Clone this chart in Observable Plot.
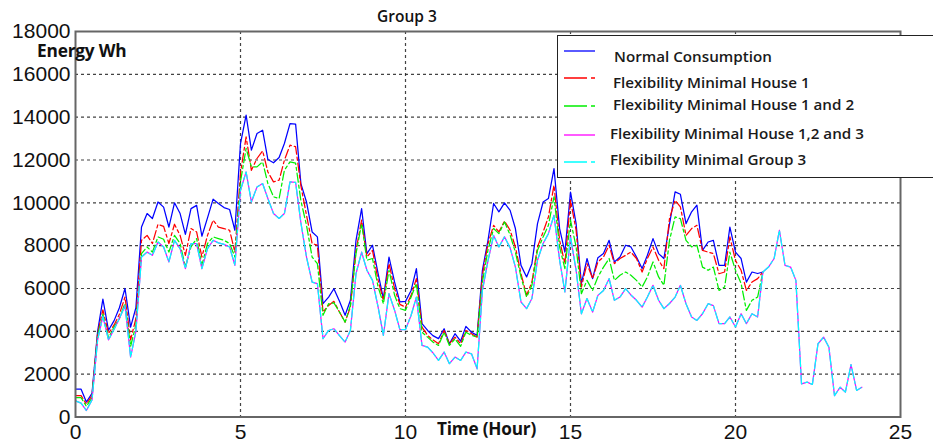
<!DOCTYPE html>
<html>
<head>
<meta charset="utf-8">
<script src="https://cdn.jsdelivr.net/npm/d3@7"></script>
<script src="https://cdn.jsdelivr.net/npm/@observablehq/plot@0.6"></script>
<style>
  html, body { margin: 0; padding: 0; background: #fff; overflow: hidden; }
  #wrap { position: relative; width: 933px; height: 448px; overflow: hidden; }
  #wrap svg.plot { position: absolute; left: 0; top: 0; }
  .ov { position: absolute; white-space: nowrap; font-family: "Open Sans", sans-serif; color: #111; }
  #title { left: 0; width: 814px; text-align: center; top: 5px; font-size: 15.5px; font-weight: 600; }
  #ylab { left: 37px; top: 39px; font-size: 17.3px; font-weight: 700; letter-spacing: -0.2px; }
  #xlab { left: 437px; top: 417px; font-size: 17.2px; font-weight: 700; letter-spacing: -0.2px; }
  #legend { position: absolute; left: 557px; top: 35px; width: 420px; height: 143px; background: #fff; border: 1.3px solid #222; box-sizing: border-box; }
  #legend svg { position: absolute; left: 0; top: 0; }
  #legend .lt { position: absolute; white-space: nowrap; font-family: "Open Sans", sans-serif; font-weight: 600; font-size: 15.2px; color: #1a1a1a; }
</style>
</head>
<body>
<div id="wrap"></div>
<script>
// ---- Data (hours, Wh) ----
const times = [0,0.17,0.33,0.5,0.67,0.83,1,1.17,1.33,1.5,1.67,1.83,
  2,2.17,2.33,2.5,2.67,2.83,3,3.17,3.33,3.5,3.67,3.83,
  4,4.17,4.33,4.5,4.67,4.83,5,5.17,5.33,5.5,5.67,5.83,
  6,6.17,6.33,6.5,6.67,6.83,7,7.17,7.33,7.5,7.67,7.83,
  8,8.17,8.33,8.5,8.67,8.83,9,9.17,9.33,9.5,9.67,9.83,
  10,10.17,10.33,10.5,10.67,10.83,11,11.17,11.33,11.5,11.67,11.83,
  12,12.17,12.33,12.5,12.67,12.83,13,13.17,13.33,13.5,13.67,13.83,
  14,14.17,14.33,14.5,14.67,14.83,15,15.17,15.33,15.5,15.67,15.83,
  16,16.17,16.33,16.5,16.67,16.83,17,17.17,17.33,17.5,17.67,17.83,
  18,18.17,18.33,18.5,18.67,18.83,19,19.17,19.33,19.5,19.67,19.83,
  20,20.17,20.33,20.5,20.67,20.83,21,21.17,21.33,21.5,21.67,21.83,
  22,22.17,22.33,22.5,22.67,22.83,23,23.17,23.33,23.5,23.67,23.83];

const normalConsumption = [1300,1300,700,1100,4000,5500,4050,4500,5100,6000,4200,5100,
  8870,9500,9270,10040,9800,8870,10000,9500,8530,9730,9880,8440,
  9300,10170,9970,9780,9690,8720,12770,14100,12460,13240,13390,12020,
  11870,12120,12770,13700,13680,10900,10040,8640,8410,5290,5600,5990,
  5400,4750,5450,8250,9730,7630,8020,6690,5530,7470,6300,5370,
  5400,5910,6930,4360,4040,3800,3660,4120,3420,3890,3540,4230,
  3960,3810,6850,8250,9970,9580,10000,9650,8800,7080,6540,7160,
  9030,10040,10200,11600,8800,7700,10500,9030,6230,7400,6460,7440,
  7630,8250,7240,7470,8020,7940,7470,6930,7550,8330,7630,7400,
  9000,10510,10400,9030,9580,9890,7780,8170,8250,7080,7080,8870,
  7700,7400,6300,6770,6700,6770];

const flexHouse1 = [1000,1000,600,1000,3900,5000,3900,4300,4800,5600,3600,4600,
  8250,8480,8100,9000,8900,8100,9000,8480,7550,8800,8640,7470,
  8480,9190,8870,8800,8720,7700,11400,13080,11520,12070,12430,11440,
  10980,11060,11990,12690,12620,10800,9420,8100,8020,4900,5210,5400,
  4900,4430,5130,7780,9190,7470,7780,6380,5450,7160,5990,5260,
  5130,5680,6460,4200,3810,3600,3420,4040,3420,3730,3420,4040,
  3890,3730,6620,8100,8950,8640,9150,8720,7940,6690,5680,6300,
  7940,8640,9340,10820,8250,7160,10120,8720,6070,7160,6460,7240,
  7470,8020,7160,7400,7550,7700,7400,6770,7400,7940,7320,6930,
  9270,10120,9810,8480,8800,8950,7780,7700,7630,6690,6770,8410,
  7300,6850,5910,6300,6460,6770];

const flexHouse12 = [900,900,500,900,3800,4800,3700,4200,4600,5300,3300,4300,
  7630,7940,7700,8410,8300,7700,8480,8100,7000,7940,8330,7080,
  8100,8410,8330,8250,8100,7470,11000,12540,11680,11680,11910,10900,
  10280,10200,11520,11910,11850,10100,8950,7470,7160,4750,5290,5330,
  4900,4430,5210,7630,9030,7320,7400,6070,5290,6850,5680,5060,
  4980,5600,6230,3960,3730,3500,3340,3960,3340,3650,3300,3960,
  3810,3730,6300,7800,8800,8560,9110,8500,7700,6540,5600,6150,
  7780,8410,8950,10280,7940,6930,9190,7940,5760,6380,5910,6540,
  7000,7400,6380,6620,6770,6620,6380,6070,6540,7240,6540,6150,
  8250,9340,9260,8250,7940,8020,7000,6850,7000,5910,6070,7700,
  6850,6230,4980,5450,5600,6770];

const flexHouse123 = [750,650,300,800,3600,4700,3600,4100,4600,5200,2800,4000,
  7470,7700,7550,8170,7940,7240,8250,7860,6930,8100,8100,6930,
  7860,8250,8130,8060,7940,7080,10590,11440,10040,10740,10900,10200,
  9500,9270,9500,10980,10950,9070,7470,6300,6230,3660,4040,4120,
  3800,3500,4040,6690,7700,6850,6380,5130,3810,5760,4980,4080,
  4080,4750,5600,3340,3260,3000,2640,3030,2490,2800,2640,3030,
  2950,2250,5910,7300,8480,7940,8410,7900,7000,5370,5060,5530,
  7320,8100,8560,9420,7320,5840,8410,6850,4820,5530,4900,5680,
  5910,6460,5450,5600,5990,5700,5450,5130,5600,6150,5450,5060,
  5300,5600,6150,5290,4670,4510,4820,5290,5200,4360,4360,4670,
  4200,4820,4360,4820,4670,6770,7000,7400,8720,7080,7000,6380,
  1550,1630,1520,3420,3730,3260,1000,1390,1160,2450,1240,1390];

const flexGroup3 = [750,650,300,800,3600,4700,3600,4100,4600,5200,2800,4000,
  7470,7700,7550,8170,7940,7240,8250,7860,6930,8100,8100,6930,
  7860,8250,8130,8060,7940,7080,10590,11440,10040,10740,10900,10200,
  9500,9270,9500,10980,10950,9070,7470,6300,6230,3660,4040,4120,
  3800,3500,4040,6690,7700,6850,6380,5130,3810,5760,4980,4080,
  4080,4750,5600,3340,3260,3000,2640,3030,2490,2800,2640,3030,
  2950,2250,5910,7300,8480,7940,8410,7900,7000,5370,5060,5530,
  7320,8100,8560,9420,7320,5840,8410,6850,4820,5530,4900,5680,
  5910,6460,5450,5600,5990,5700,5450,5130,5600,6150,5450,5060,
  5300,5600,6150,5290,4670,4510,4820,5290,5200,4360,4360,4670,
  4200,4820,4360,4820,4670,6770,7000,7400,8720,7080,7000,6380,
  1550,1630,1520,3420,3730,3260,1000,1390,1160,2450,1240,1390];

const seriesNames = ["Normal Consumption", "Flexibility Minimal House 1", "Flexibility Minimal House 1 and 2",
  "Flexibility Minimal House 1,2 and 3", "Flexibility Minimal Group 3"];
const seriesColors = ["#0000ff", "#ff0000", "#00ee00", "#ff00ff", "#00ffff"];
const seriesDash = [null, "9,3,3,3", "9,3,3,3", null, "9,3,3,3"];
const xTicks = [0, 5, 10, 15, 20, 25];
const yTicks = [0, 2000, 4000, 6000, 8000, 10000, 12000, 14000, 16000, 18000];

// ---- Build rows ----
const allValues = [normalConsumption, flexHouse1, flexHouse12, flexHouse123, flexGroup3];
const rowsFor = (vals) => vals.map((v, i) => ({t: times[i], v}));

const lineMarks = allValues.map((vals, k) => Plot.line(rowsFor(vals), {
  x: "t", y: "v", stroke: seriesColors[k], strokeWidth: 1.25,
  strokeDasharray: seriesDash[k] || undefined, curve: "linear"
}));

const tickFont = "'Liberation Sans', Arial, sans-serif";
const gridStyle = {stroke: "#222", strokeOpacity: 0.85, strokeWidth: 1.2, strokeDasharray: "3,3"};

const chart = Plot.plot({
  width: 933, height: 448,
  marginLeft: 75, marginRight: 33, marginTop: 31, marginBottom: 31.5,
  style: {background: "transparent", fontFamily: tickFont, fontSize: "21px", color: "#111"},
  x: {type: "linear", domain: [0, 25], ticks: xTicks},
  y: {type: "linear", domain: [0, 18000], ticks: yTicks},
  marks: [
    Plot.gridX({...gridStyle, ticks: xTicks.filter(d => d > 0 && d < 25)}),
    Plot.gridY({...gridStyle, ticks: yTicks.filter(d => d > 0 && d < 18000)}),
    ...lineMarks,
    Plot.frame({stroke: "#666", strokeWidth: 2}),
    Plot.axisX({ticks: xTicks, tickSize: 0, tickPadding: 7, label: null, fontSize: 21, tickFormat: d => String(d)}),
    Plot.axisY({ticks: yTicks, tickSize: 0, tickPadding: 5, label: null, fontSize: 21, tickFormat: d => String(d)})
  ]
});
chart.classList.add("plot");

const wrap = document.getElementById("wrap");
wrap.appendChild(chart);

function ov(id, text) {
  const d = document.createElement("div");
  d.className = "ov"; d.id = id; d.textContent = text;
  wrap.appendChild(d);
}
ov("title", "Group 3");
ov("ylab", "Energy Wh");
ov("xlab", "Time (Hour)");

// ---- Legend ----
const legend = document.createElement("div");
legend.id = "legend";
const rowY = [15, 42, 70, 99, 126];   // sample line y inside legend box
const textY = [10, 36, 58, 87, 113];  // text top inside legend box
const textX = [56, 55, 55, 52, 52];
const ns = "http://www.w3.org/2000/svg";
const lsvg = document.createElementNS(ns, "svg");
lsvg.setAttribute("width", 60); lsvg.setAttribute("height", 143);
seriesNames.forEach((name, k) => {
  const ln = document.createElementNS(ns, "line");
  ln.setAttribute("x1", 6); ln.setAttribute("x2", 37);
  ln.setAttribute("y1", rowY[k]); ln.setAttribute("y2", rowY[k]);
  ln.setAttribute("stroke", seriesColors[k]); ln.setAttribute("stroke-width", 1.3);
  if (seriesDash[k]) ln.setAttribute("stroke-dasharray", "23,4,4,4");
  lsvg.appendChild(ln);
  const tx = document.createElement("div");
  tx.className = "lt"; tx.textContent = name;
  tx.style.left = textX[k] + "px"; tx.style.top = textY[k] + "px";
  legend.appendChild(tx);
});
legend.appendChild(lsvg);
wrap.appendChild(legend);
</script>
</body>
</html>
